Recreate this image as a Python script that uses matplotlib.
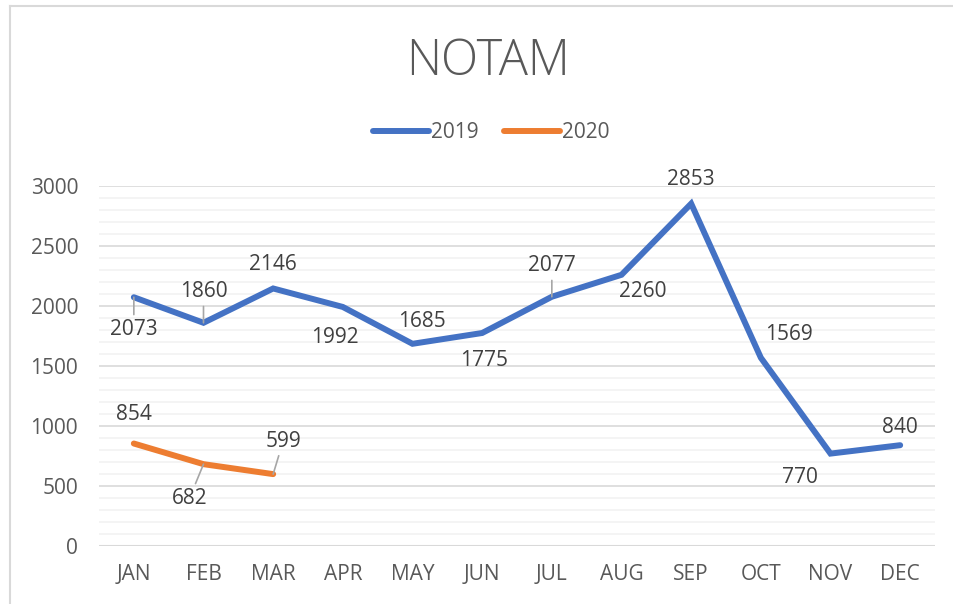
import matplotlib.pyplot as plt
from matplotlib.lines import Line2D
import numpy as np

plt.rcParams['font.family'] = ['Open Sans', 'DejaVu Sans']

months = ['JAN', 'FEB', 'MAR', 'APR', 'MAY', 'JUN',
          'JUL', 'AUG', 'SEP', 'OCT', 'NOV', 'DEC']
notam_2019 = [2073, 1860, 2146, 1992, 1685, 1775, 2077, 2260, 2853, 1569, 770, 840]
notam_2020 = [854, 682, 599]

# label offsets in pixels (dx, dy) and whether a leader line is drawn
offs_2019 = [(0, -32), (0, 31), (0, 24), (-8, -31), (9, 22), (2, -27),
             (0, 31), (21, -17), (0, 24), (28, 23), (-31, -24), (0, 18)]
lead_2019 = [True, True, False, False, False, False,
             True, False, False, False, False, False]
offs_2020 = [(0, 29), (-14, -34), (10, 33)]
lead_2020 = [False, True, True]

blue = '#4472C4'
orange = '#ED7D31'
txt = '#595959'
fs = 15

fig = plt.figure(figsize=(9.54, 6.04), dpi=100)
ax = fig.add_axes([99/954, 1 - 546/604, (935 - 99)/954, 360/604])

x = np.arange(len(months))
ax.plot(x, notam_2019, c=blue, lw=4.3, solid_capstyle='round', solid_joinstyle='miter', zorder=3)
ax.plot(x[:len(notam_2020)], notam_2020, c=orange, lw=4.3, solid_capstyle='round', zorder=3)


def labels(vals, offs, leads):
	for i, v in enumerate(vals):
		dx, dy = offs[i]
		kw = {}
		if leads[i]:
			kw['arrowprops'] = dict(arrowstyle='-', color='#A6A6A6', lw=1.2,
			                        shrinkA=1, shrinkB=0)
		ax.annotate(str(v), (i, v), xytext=(dx*0.72, dy*0.72), textcoords='offset points',
		            ha='center', va='center', fontsize=fs, color='#404040', zorder=4, **kw)


labels(notam_2019, offs_2019, lead_2019)
labels(notam_2020, offs_2020, lead_2020)

ax.set_xlim(-0.5, 11.5)
ax.set_ylim(0, 3000)
ax.set_xticks(x)
ax.set_xticklabels(months)
ax.set_yticks(range(0, 3001, 500))
ax.set_yticks(range(0, 3001, 100), minor=True)
ax.tick_params(axis='both', which='both', length=0, labelsize=fs, labelcolor=txt)
ax.tick_params(axis='x', pad=13)
ax.tick_params(axis='y', pad=15)
ax.grid(which='minor', axis='y', color='#F2F2F2', lw=1.2)
ax.grid(which='major', axis='y', color='#D9D9D9', lw=1.2)
for s in ax.spines.values():
	s.set_visible(False)
ax.axhline(0, color='#D9D9D9', lw=1.5)

fig.text(488/954, 1 - 62/604, 'NOTAM', ha='center', va='center',
         fontsize=35, color=txt, fontweight='light')

handles = [Line2D([], [], c=blue, lw=4.3, solid_capstyle='round'),
           Line2D([], [], c=orange, lw=4.3, solid_capstyle='round')]
fig.legend(handles, ['2019', '2020'], loc='center', bbox_to_anchor=(491/954, 1 - 133/604),
           ncol=2, frameon=False, fontsize=fs, labelcolor=txt,
           handlelength=2.7, handletextpad=0.1, columnspacing=1.2)

# chart border (left and top)
fig.add_artist(Line2D([10/954, 10/954], [0, 1 - 6/604], color='#D9D9D9', lw=1.5))
fig.add_artist(Line2D([10/954, 1], [1 - 6/604, 1 - 6/604], color='#D9D9D9', lw=1.5))

fig.savefig('out.png', dpi=100)
